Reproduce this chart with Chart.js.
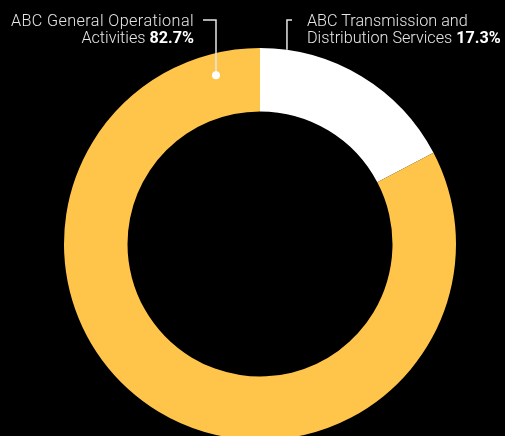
<!DOCTYPE html>
<html>
<head>
<meta charset="utf-8">
<script src="https://cdn.jsdelivr.net/npm/chart.js@4"></script>
<style>
  html, body { margin: 0; padding: 0; background: #000; overflow: hidden; }
  #wrap { position: relative; width: 505px; height: 436px; overflow: hidden; }
  #chart { position: absolute; left: 0; top: 0; }
  .lbl { position: absolute; color: #e6e6e6; font-family: Roboto, "Noto Sans", sans-serif;
         font-weight: 300; font-size: 16.2px; line-height: 17px; white-space: nowrap; letter-spacing: 0px; }
  .lbl b { font-weight: 700; color: #fff; }
  #lbl1 .l0 { letter-spacing: 0.4px; }
</style>
</head>
<body>
<div id="wrap">
  <canvas id="chart" width="505" height="440"></canvas>
  <div class="lbl" id="lbl0" style="left:307px; top:12px; text-align:left;"></div>
  <div class="lbl" id="lbl1" style="right:311px; top:12px; text-align:right;"></div>
</div>
<script>
// categories and values
var categorias = ["ABC Transmission and Distribution Services", "ABC General Operational Activities"];
var linhas = [["ABC Transmission and", "Distribution Services"], ["ABC General Operational", "Activities"]];
var valores = [17.3, 82.7];
var cores = ['#ffffff', '#ffc44a'];

// label text (html)
for (var i = 0; i < linhas.length; i++) {
    document.getElementById('lbl' + i).innerHTML =
        '<span class="l0">' + linhas[i][0] + '</span><br>' + linhas[i][1] + ' <b>' + valores[i].toFixed(1) + '%</b>';
}

// leader lines drawn from the arc elements
var linhasGuia = {
    id: 'linhasGuia',
    afterDraw: function(chart) {
        var ctx = chart.ctx;
        var meta = chart.getDatasetMeta(0);
        var a0 = meta.data[0], a1 = meta.data[1];
        var cx = a0.x, cy = a0.y;
        ctx.save();
        ctx.strokeStyle = '#e6e6e6';
        ctx.fillStyle = '#ffffff';
        ctx.lineWidth = 1.5;

        // right label -> white slice, outer edge
        var ang = -Math.PI / 2 + 0.138;
        var px = cx + Math.cos(ang) * a0.outerRadius;
        var py = cy + Math.sin(ang) * a0.outerRadius;
        ctx.beginPath();
        ctx.moveTo(292, 20);
        ctx.lineTo(px, 20);
        ctx.lineTo(px, py);
        ctx.stroke();

        // left label -> yellow slice, dot inside the ring
        var ang2 = -Math.PI / 2 - 0.255;
        var r2 = a1.outerRadius * 0.89;
        var qx = cx + Math.cos(ang2) * r2;
        var qy = cy + Math.sin(ang2) * r2;
        ctx.beginPath();
        ctx.moveTo(203, 20);
        ctx.lineTo(qx, 20);
        ctx.lineTo(qx, qy);
        ctx.stroke();
        ctx.beginPath();
        ctx.arc(qx, qy, 4, 0, Math.PI * 2);
        ctx.fill();
        ctx.restore();
    }
};

var ctx = document.getElementById('chart').getContext('2d');
var chart = new Chart(ctx, {
    type: 'doughnut',
    data: {
        labels: categorias,
        datasets: [{
            data: valores,
            backgroundColor: cores,
            borderWidth: 0
        }]
    },
    options: {
        responsive: false,
        animation: false,
        cutout: '67.6%',
        layout: { padding: { left: 64, right: 49, top: 48, bottom: 0 } },
        plugins: {
            legend: { display: false },
            tooltip: { enabled: false }
        }
    },
    plugins: [linhasGuia]
});
</script>
</body>
</html>
